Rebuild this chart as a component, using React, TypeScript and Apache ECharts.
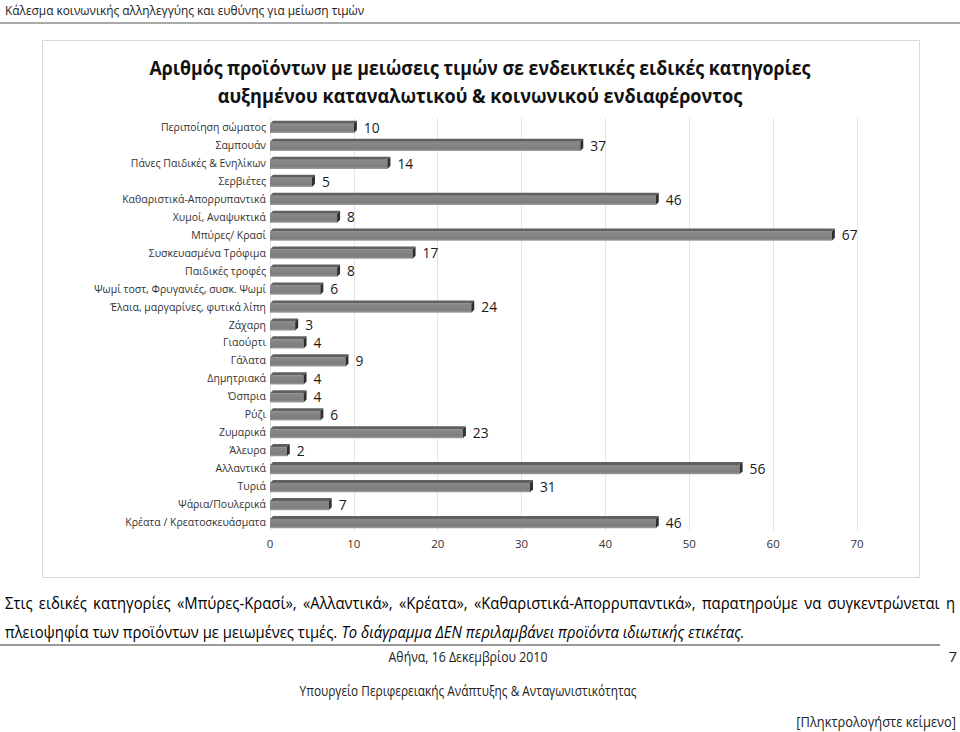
import React, { useEffect, useRef } from "react";
import * as echarts from "echarts";

const FONT = '"Open Sans", "Noto Sans", "DejaVu Sans", sans-serif';

const categories = [
  "Περιποίηση σώματος",
  "Σαμπουάν",
  "Πάνες Παιδικές & Ενηλίκων",
  "Σερβιέτες",
  "Καθαριστικά-Απορρυπαντικά",
  "Χυμοί, Αναψυκτικά",
  "Μπύρες/ Κρασί",
  "Συσκευασμένα Τρόφιμα",
  "Παιδικές τροφές",
  "Ψωμί τοστ, Φρυγανιές, συσκ. Ψωμί",
  "Έλαια, μαργαρίνες, φυτικά λίπη",
  "Ζάχαρη",
  "Γιαούρτι",
  "Γάλατα",
  "Δημητριακά",
  "Όσπρια",
  "Ρύζι",
  "Ζυμαρικά",
  "Άλευρα",
  "Αλλαντικά",
  "Τυριά",
  "Ψάρια/Πουλερικά",
  "Κρέατα / Κρεατοσκευάσματα",
];

const values = [10, 37, 14, 5, 46, 8, 67, 17, 8, 6, 24, 3, 4, 9, 4, 4, 6, 23, 2, 56, 31, 7, 46];

const axisMin = 0;
const axisMax = 70;
const axisInterval = 10;

const headerText = "Κάλεσμα κοινωνικής αλληλεγγύης και ευθύνης για μείωση τιμών";
const titleLines = [
  "Αριθμός προϊόντων με μειώσεις τιμών σε ενδεικτικές ειδικές κατηγορίες",
  "αυξημένου καταναλωτικού & κοινωνικού ενδιαφέροντος",
];
const paragraphLine1 =
  "Στις ειδικές κατηγορίες «Μπύρες-Κρασί», «Αλλαντικά», «Κρέατα», «Καθαριστικά-Απορρυπαντικά», παρατηρούμε να συγκεντρώνεται η";
const paragraphLine2Regular = "πλειοψηφία των προϊόντων με μειωμένες τιμές. ";
const paragraphLine2Italic = "Το διάγραμμα ΔΕΝ περιλαμβάνει προϊόντα ιδιωτικής ετικέτας.";
const footerDate = "Αθήνα, 16 Δεκεμβρίου 2010";
const footerMinistry = "Υπουργείο Περιφερειακής Ανάπτυξης & Ανταγωνιστικότητας";
const pageNumber = "7";
const placeholderText = "[Πληκτρολογήστε κείμενο]";

let ctx: CanvasRenderingContext2D | null = null;
function measure(text: string, size: number, weight = "normal", style = "normal") {
  if (!ctx) ctx = document.createElement("canvas").getContext("2d");
  if (!ctx) return text.length * size * 0.55;
  ctx.font = `${style} ${weight} ${size}px ${FONT}`;
  return ctx.measureText(text).width;
}
function font(size: number, weight = "normal", style = "normal") {
  return `${style} ${weight} ${size.toFixed(2)}px ${FONT}`;
}

// text drawn at a given font size, horizontally condensed to a target width
function scaledText(
  text: string, x: number, y: number, size: number, targetW: number,
  align = "left", weight = "normal", fill = "#222", fstyle = "normal"
) {
  const w = measure(text, size, weight, fstyle);
  const sx = Math.min(1.1, targetW / w);
  return {
    type: "text", x, y, scaleX: sx, scaleY: 1,
    style: { text, font: font(size, weight, fstyle), fill, textAlign: align, textVerticalAlign: "middle" },
  };
}

function buildGraphics() {
  const els: any[] = [];
  // header
  els.push(scaledText(headerText, 5, 10, 13, 360, "left", "normal", "#222"));
  els.push({ type: "line", shape: { x1: 0, y1: 23, x2: 960, y2: 23 }, style: { stroke: "#555", lineWidth: 1.2 } });
  // chart frame
  els.push({ type: "rect", shape: { x: 42.5, y: 40.5, width: 877, height: 537 }, style: { fill: "none", stroke: "#d9d9d9", lineWidth: 1 }, z: -1 });
  // title
  els.push(scaledText(titleLines[0], 480, 68, 20, 661, "center", "bold", "#111"));
  els.push(scaledText(titleLines[1], 480, 96, 20, 525, "center", "bold", "#111"));

  // paragraph: line 2 at natural spacing, line 1 justified
  const ps = 15.5;
  const rw = measure(paragraphLine2Regular, ps);
  const iw = measure(paragraphLine2Italic, ps, "normal", "italic");
  const sx2 = 740 / (rw + iw);
  els.push({ type: "text", x: 5, y: 632, scaleX: sx2, style: { text: paragraphLine2Regular, font: font(ps), fill: "#000", textAlign: "left", textVerticalAlign: "middle" } });
  els.push({ type: "text", x: 5 + rw * sx2, y: 632, scaleX: sx2, style: { text: paragraphLine2Italic, font: font(ps, "normal", "italic"), fill: "#000", textAlign: "left", textVerticalAlign: "middle" } });
  const words = paragraphLine1.split(" ");
  const widths = words.map((w) => measure(w, ps) * sx2);
  const total = widths.reduce((a, b) => a + b, 0);
  const gap = (950 - total) / (words.length - 1);
  let cx = 5;
  words.forEach((w, i) => {
    els.push({ type: "text", x: cx, y: 603, scaleX: sx2, style: { text: w, font: font(ps), fill: "#000", textAlign: "left", textVerticalAlign: "middle" } });
    cx += widths[i] + gap;
  });

  // footer
  els.push({ type: "line", shape: { x1: 0, y1: 645, x2: 940, y2: 645 }, style: { stroke: "#777", lineWidth: 1.5 } });
  els.push(scaledText(footerDate, 468, 657, 14, 159, "center"));
  els.push({ type: "text", x: 957, y: 656, style: { text: pageNumber, font: font(15), fill: "#222", textAlign: "right", textVerticalAlign: "middle" } });
  els.push(scaledText(footerMinistry, 468, 691, 14, 337, "center"));
  els.push(scaledText(placeholderText, 956, 721, 15, 160, "right"));
  return els;
}

export default function App() {
  const ref = useRef<HTMLDivElement>(null);
  useEffect(() => {
    if (!ref.current) return;
    const chart = echarts.init(ref.current, undefined, { renderer: "svg" });
    const data = values.map((v, i) => [v, i]);
    const option: any = {
      animation: false,
      backgroundColor: "#fff",
      textStyle: { fontFamily: FONT },
      grid: { left: 270, right: 103, top: 118, bottom: 201, containLabel: false },
      xAxis: {
        type: "value",
        min: axisMin,
        max: axisMax,
        interval: axisInterval,
        axisLine: { show: false },
        axisTick: { show: false },
        splitLine: { show: true, lineStyle: { color: "#e6e6e6", width: 1 } },
        axisLabel: { fontSize: 11.5, color: "#333", margin: 6, fontFamily: FONT },
      },
      yAxis: {
        type: "category",
        data: categories,
        inverse: true,
        axisLine: { show: false },
        axisTick: { show: false },
        axisLabel: { fontSize: 10.5, color: "#333", margin: 4, fontFamily: FONT },
      },
      series: [
        {
          type: "custom",
          clip: false,
          encode: { x: 0, y: 1 },
          data,
          renderItem: (params: any, api: any) => {
            const v = api.value(0);
            const idx = api.value(1);
            const p0 = api.coord([0, idx]);
            const p1 = api.coord([v, idx]);
            const band = api.size([0, 1])[1];
            const h = band * 0.68;
            const d = 3;
            const yT = p0[1] - h / 2;
            const yB = p0[1] + h / 2;
            const x0 = p0[0];
            const x1 = p1[0];
            return {
              type: "group",
              children: [
                {
                  type: "rect",
                  shape: { x: x0, y: yT + d, width: x1 - x0, height: yB - yT - d },
                  style: {
                    fill: new echarts.graphic.LinearGradient(0, 0, 0, 1, [
                      { offset: 0, color: "#8a8a8a" },
                      { offset: 0.75, color: "#7d7d7d" },
                      { offset: 1, color: "#a0a0a0" },
                    ]),
                  },
                },
                {
                  type: "polygon",
                  shape: { points: [[x0, yT + d], [x0 + d, yT], [x1 + d, yT], [x1, yT + d]] },
                  style: { fill: "#606060" },
                },
                {
                  type: "polygon",
                  shape: { points: [[x1, yT + d], [x1 + d, yT], [x1 + d, yB - d], [x1, yB]] },
                  style: { fill: "#2f2f2f" },
                },
                {
                  type: "text",
                  x: x1 + d + 7,
                  y: p0[1],
                  scaleX: 0.92,
                  style: {
                    text: String(v),
                    font: font(15),
                    fill: "#1a1a1a",
                    textAlign: "left",
                    textVerticalAlign: "middle",
                  },
                },
              ],
            };
          },
        },
      ],
      graphic: { elements: buildGraphics() },
    };
    chart.setOption(option);
    return () => chart.dispose();
  }, []);
  return (
    <div
      ref={ref}
      style={{ position: "absolute", left: 0, top: 0, width: 960, height: 732, background: "#fff" }}
    />
  );
}
